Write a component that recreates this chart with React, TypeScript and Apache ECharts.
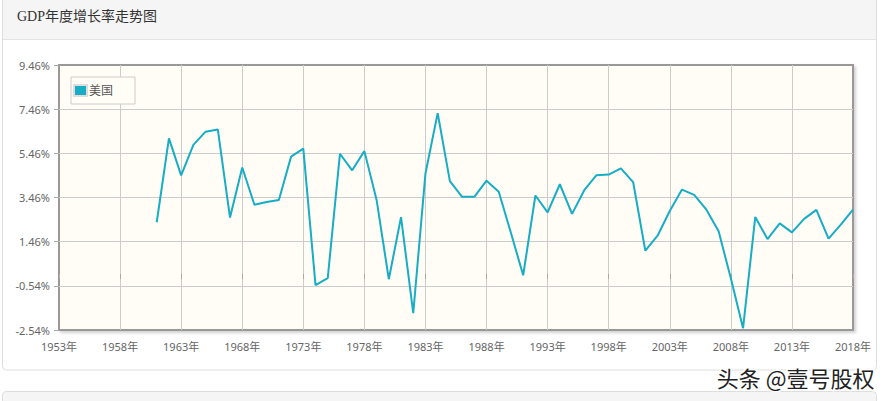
import React, { useEffect, useRef } from "react";
import * as echarts from "echarts";

const titleText = "GDP年度增长率走势图";
const seriesName = "美国";
const watermark = "头条 @壹号股权";

const years = [
  1961, 1962, 1963, 1964, 1965, 1966, 1967, 1968, 1969, 1970,
  1971, 1972, 1973, 1974, 1975, 1976, 1977, 1978, 1979, 1980,
  1981, 1982, 1983, 1984, 1985, 1986, 1987, 1988, 1989, 1990,
  1991, 1992, 1993, 1994, 1995, 1996, 1997, 1998, 1999, 2000,
  2001, 2002, 2003, 2004, 2005, 2006, 2007, 2008, 2009, 2010,
  2011, 2012, 2013, 2014, 2015, 2016, 2017, 2018,
];

const growth = [
  2.34, 6.14, 4.46, 5.84, 6.44, 6.54, 2.55, 4.82, 3.13, 3.26,
  3.35, 5.31, 5.67, -0.51, -0.19, 5.44, 4.69, 5.56, 3.35, -0.24,
  2.57, -1.78, 4.55, 7.28, 4.2, 3.49, 3.49, 4.22, 3.72, 1.85,
  -0.06, 3.55, 2.79, 4.06, 2.72, 3.79, 4.47, 4.5, 4.78, 4.16,
  1.05, 1.73, 2.85, 3.82, 3.58, 2.91, 1.93, -0.2, -2.46, 2.58,
  1.58, 2.29, 1.88, 2.49, 2.9, 1.6, 2.23, 2.91,
];

const xMin = 1953;
const xMax = 2018;
const xStep = 5;
const yMin = -2.54;
const yMax = 9.46;
const yStep = 2;

export default function App() {
  const ref = useRef<HTMLDivElement>(null);

  useEffect(() => {
    if (!ref.current) return;
    const chart = echarts.init(ref.current, null, { renderer: "svg" });
    const labelFont = "'Noto Sans', 'Noto Sans CJK SC', sans-serif";
    chart.setOption({
      animation: false,
      backgroundColor: "#ffffff",
      title: {
        text: titleText,
        left: 17,
        top: 9,
        padding: 0,
        textStyle: {
          fontFamily: "'Liberation Serif', 'DejaVu Serif', 'Noto Sans CJK SC', serif",
          fontSize: 14,
          fontWeight: "normal",
          color: "#333333",
        },
      },
      graphic: [
        {
          type: "rect",
          z: -10,
          silent: true,
          shape: { x: 2.5, y: -6, width: 874, height: 376, r: 4 },
          style: { fill: "#ffffff", stroke: "#dddddd", lineWidth: 1 },
        },
        {
          type: "rect",
          z: -9,
          silent: true,
          shape: { x: 3, y: 0, width: 873, height: 39 },
          style: { fill: "#f5f5f5" },
        },
        {
          type: "line",
          z: -8,
          silent: true,
          shape: { x1: 3, y1: 39.5, x2: 876, y2: 39.5 },
          style: { stroke: "#e3e3e3", lineWidth: 1 },
        },
        {
          type: "rect",
          z: -10,
          silent: true,
          shape: { x: 2.5, y: 391.5, width: 874, height: 30, r: 4 },
          style: { fill: "#f5f5f5", stroke: "#dddddd", lineWidth: 1 },
        },
        {
          type: "text",
          z: 100,
          silent: true,
          right: 11,
          top: 364,
          style: {
            text: watermark,
            fontFamily: "'Noto Sans CJK SC', sans-serif",
            fontSize: 22,
            fill: "#222222",
            stroke: "#ffffff",
            lineWidth: 3,
          },
        },
      ],
      legend: {
        data: [seriesName],
        left: 71,
        top: 77,
        orient: "vertical",
        padding: [7, 22, 7, 2],
        itemWidth: 13,
        itemHeight: 11,
        itemGap: 2,
        backgroundColor: "#fffdf6",
        borderColor: "#cccccc",
        borderWidth: 1,
        icon: "rect",
        textStyle: {
          fontFamily: labelFont,
          fontSize: 12,
          color: "#555555",
          padding: [0, 0, 0, -3],
        },
      },
      grid: {
        left: 59,
        right: 34,
        top: 65,
        bottom: 71,
        show: true,
        backgroundColor: "#fffdf6",
        borderColor: "#999999",
        borderWidth: 2,
        shadowColor: "rgba(0,0,0,0.18)",
        shadowBlur: 3,
        shadowOffsetX: 2,
        shadowOffsetY: 2,
        containLabel: false,
      },
      xAxis: {
        type: "value",
        min: xMin,
        max: xMax,
        interval: xStep,
        axisLine: { show: false },
        axisTick: {
          show: true,
          length: 5,
          lineStyle: { color: "#aaaaaa" },
        },
        splitLine: {
          show: true,
          showMinLine: false,
          showMaxLine: false,
          lineStyle: { color: "#cccccc", width: 1 },
        },
        axisLabel: {
          margin: 11,
          fontFamily: labelFont,
          fontSize: 11,
          color: "#666666",
          formatter: (v: number) => `${Math.round(v)}年`,
        },
      },
      yAxis: {
        type: "value",
        min: yMin,
        max: yMax,
        interval: yStep,
        axisLine: { show: false },
        axisTick: {
          show: true,
          length: 5,
          lineStyle: { color: "#aaaaaa" },
        },
        splitLine: {
          show: true,
          showMinLine: false,
          showMaxLine: false,
          lineStyle: { color: "#cccccc", width: 1 },
        },
        axisLabel: {
          margin: 9,
          fontFamily: labelFont,
          fontSize: 11,
          color: "#666666",
          formatter: (v: number) => `${v.toFixed(2)}%`,
        },
      },
      series: [
        {
          name: seriesName,
          type: "line",
          data: years.map((y, i) => [y, growth[i]]),
          showSymbol: false,
          symbol: "none",
          lineStyle: { color: "#17adc5", width: 2 },
          itemStyle: { color: "#17adc5", borderColor: "#dddddd", borderWidth: 1 },
          z: 5,
        },
      ],
    });
    return () => chart.dispose();
  }, []);

  return (
    <div
      ref={ref}
      style={{ position: "absolute", left: 0, top: 0, width: 887, height: 401 }}
    />
  );
}
